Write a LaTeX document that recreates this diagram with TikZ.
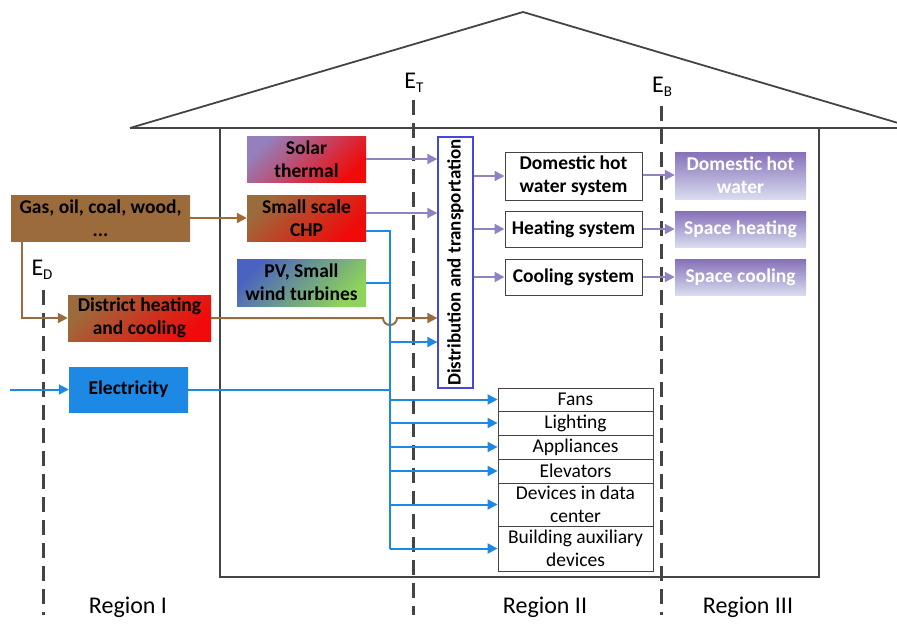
\documentclass[tikz,border=0pt]{standalone}
\usepackage{fontspec}
\setmainfont{Carlito}
\usetikzlibrary{arrows.meta}
\definecolor{fuelbrown}{HTML}{9C6B3C}
\definecolor{heatred}{HTML}{F00A0A}
\definecolor{solarpurple}{HTML}{9480BC}
\definecolor{pvblue}{HTML}{4A62C0}
\definecolor{pvgreen}{HTML}{8ED45A}
\definecolor{elecblue}{HTML}{1E88E5}
\definecolor{flowpurple}{HTML}{9282C2}
\definecolor{outpurple}{HTML}{8670B8}
\definecolor{outlight}{HTML}{D8DCF0}
\definecolor{distblue}{HTML}{4646DC}
\definecolor{wallgray}{HTML}{444444}
\begin{document}
\begin{tikzpicture}[x=1pt, y=-1pt,
    every node/.style = {align=center, inner sep=1pt, font=\fontsize{19.5}{23}\selectfont},
    src/.style 2 args = {top color=#1, bottom color=#2, shading angle=45, font=\bfseries\fontsize{19.5}{23}\selectfont},
    sysbox/.style = {draw=wallgray, line width=1pt, font=\bfseries\fontsize{19.5}{23}\selectfont},
    outbox/.style = {top color=outpurple, bottom color=outlight, text=white, font=\bfseries\fontsize{19.5}{23}\selectfont},
    devbox/.style = {draw=wallgray, line width=0.8pt, minimum width=155pt},
    lbl/.style = {font=\fontsize{24}{28}\selectfont},
    boundary/.style = {wallgray, line width=3pt, dash pattern=on 15pt off 8pt},
    wall/.style = {wallgray, line width=1.8pt},
    heatflow/.style = {flowpurple, line width=2pt, -{Triangle[length=10pt, width=10pt]}},
    fuelflow/.style = {fuelbrown, line width=2pt, -{Triangle[length=10pt, width=10pt]}},
    elecflow/.style = {elecblue, line width=2pt, -{Triangle[length=10pt, width=10pt]}}
    ]
    \useasboundingbox (0,0) rectangle (897,624);

    % house
    \draw[wall] (130,128) -- (897,128);
    \draw[wall] (220,128) -- (220,577) -- (819,577) -- (819,128);
    \begin{scope}
        \clip (0,0) rectangle (897,624);
        \draw[wall] (130,128) -- (523,12) -- (915,128);
    \end{scope}

    % boundaries
    \draw[boundary] (413,100) -- (413,615);
    \draw[boundary] (661,106) -- (661,615);
    \draw[boundary] (43,290) -- (43,615);
    \node[lbl] (et) at (414,83) {E\raisebox{-0.35ex}{\fontsize{15}{16}\selectfont T}};
    \node[lbl] (eb) at (662,87) {E\raisebox{-0.35ex}{\fontsize{15}{16}\selectfont B}};
    \node[lbl] (ed) at (42,270) {E\raisebox{-0.35ex}{\fontsize{15}{16}\selectfont D}};
    \node[lbl] (r1) at (128,607) {Region I};
    \node[lbl] (r2) at (545,607) {Region II};
    \node[lbl] (r3) at (748,607) {Region III};

    % sources
    \node[src={fuelbrown}{fuelbrown}, minimum width=179pt, minimum height=46pt] (fuel) at (100.5,218) {Gas, oil, coal, wood,\\...};
    \node[src={fuelbrown}{heatred}, minimum width=143pt, minimum height=46pt] (dhc) at (139.5,318) {District heating\\and cooling};
    \node[src={elecblue}{elecblue}, minimum width=119pt, minimum height=45pt] (elec) at (128.5,389.5) {Electricity};
    \node[src={solarpurple}{heatred}, minimum width=119pt, minimum height=46pt] (solar) at (306.5,159) {Solar\\thermal};
    \node[src={fuelbrown}{heatred}, minimum width=119pt, minimum height=46pt] (chp) at (306.5,218) {Small scale\\CHP};
    \node[src={pvblue}{pvgreen}, minimum width=129pt, minimum height=47pt] (pv) at (301.5,282.5) {PV, Small\\wind turbines};

    % distribution
    \node[draw=distblue, line width=1.3pt, minimum width=251pt, minimum height=35pt, rotate=90, font=\bfseries\fontsize{19}{23}\selectfont] (dist) at (455.5,262.5) {Distribution and transportation};

    % systems and services
    \node[sysbox, minimum width=137pt, minimum height=48pt] (dhws) at (573.5,176) {Domestic hot\\water system};
    \node[sysbox, minimum width=137pt, minimum height=36pt] (hs) at (573.5,229) {Heating system};
    \node[sysbox, minimum width=137pt, minimum height=36pt] (cs) at (573.5,277) {Cooling system};
    \node[outbox, minimum width=131pt, minimum height=47pt] (dhw) at (740.5,175.5) {Domestic hot\\water};
    \node[outbox, minimum width=131pt, minimum height=36pt] (sh) at (740.5,229) {Space heating};
    \node[outbox, minimum width=131pt, minimum height=36pt] (sc) at (740.5,277) {Space cooling};

    % electric devices
    \node[devbox, minimum height=23pt] (fans) at (575.5,399.5) {Fans};
    \node[devbox, minimum height=24pt] (light) at (575.5,423) {Lighting};
    \node[devbox, minimum height=24pt] (appl) at (575.5,447) {Appliances};
    \node[devbox, minimum height=24pt] (elev) at (575.5,471) {Elevators};
    \node[devbox, minimum height=43pt] (data) at (575.5,504.5) {Devices in data\\center};
    \node[devbox, minimum height=45pt] (aux) at (575.5,548.5) {Building auxiliary\\devices};

    % fuel flows
    \coordinate (fueldown) at (22,241);
    \draw[fuelflow] (fuel.east |- chp.west) -- (chp.west);
    \draw[fuelflow] (fueldown) -- (fueldown |- dhc.west) -- (dhc.west);
    \draw[fuelflow] (dhc.east) -- (383,318) arc (180:0:7) -- (dist.north |- dhc.east);

    % heat flows
    \draw[heatflow] (solar.east) -- (dist.north |- solar.east);
    \draw[heatflow] (chp.east |- 0,213) -- (dist.north |- 0,213);
    \draw[heatflow] (dist.south |- dhws.west) -- (dhws.west);
    \draw[heatflow] (dist.south |- hs.west) -- (hs.west);
    \draw[heatflow] (dist.south |- cs.west) -- (cs.west);
    \draw[heatflow] (dhws.east |- 0,175) -- (dhw.west |- 0,175);
    \draw[heatflow] (hs.east) -- (sh.west);
    \draw[heatflow] (cs.east) -- (sc.west);

    % electricity flows
    \coordinate (bus) at (390,231);
    \coordinate (gridin) at (10,389.5);
    \draw[elecflow] (gridin) -- (elec.west);
    \draw[elecblue, line width=2pt] (chp.east |- bus) -- (bus) -- (bus |- aux.west);
    \draw[elecblue, line width=2pt] (pv.east) -- (bus |- pv.east);
    \draw[elecblue, line width=2pt] (elec.east) -- (bus |- elec.east);
    \draw[elecflow] (bus |- 0,342) -- (dist.north |- 0,342);
    \foreach \dev in {fans, light, appl, elev, data, aux}
        \draw[elecflow] (bus |- \dev.west) -- (\dev.west);
\end{tikzpicture}
\end{document}
